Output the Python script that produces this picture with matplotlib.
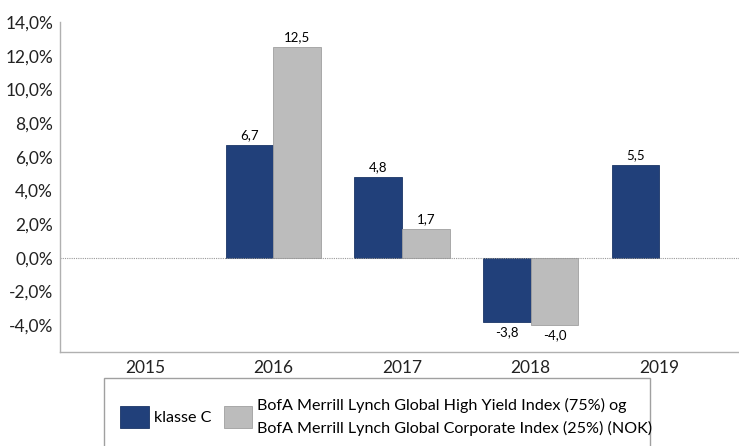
import numpy as np
import matplotlib.pyplot as plt
from matplotlib.patches import Rectangle
from matplotlib.ticker import FuncFormatter

plt.rcParams['font.family'] = ['Lato', 'DejaVu Sans']

years = ["2015", "2016", "2017", "2018", "2019"]
klasse_c = [np.nan, 6.7, 4.8, -3.8, 5.5]
index_vals = [np.nan, 12.5, 1.7, -4.0, np.nan]

label_c = "klasse C"
label_idx = ("BofA Merrill Lynch Global High Yield Index (75%) og\n"
             "BofA Merrill Lynch Global Corporate Index (25%) (NOK)")

DARK = "#21407a"
GRAY = "#bcbcbc"

fig = plt.figure(figsize=(7.39, 4.46), dpi=100)
ax = fig.add_axes([60 / 739, 1 - 352 / 446, 1 - 60 / 739, (352 - 22) / 446])

x = np.arange(len(years))
w = 0.37
bars_c = ax.bar(x - w / 2, klasse_c, w, color=DARK, edgecolor="#1a3566", linewidth=0.6)
bars_i = ax.bar(x + w / 2, index_vals, w, color=GRAY, edgecolor="#a0a0a0", linewidth=0.6)

for bars, vals in [(bars_c, klasse_c), (bars_i, index_vals)]:
    for b, v in zip(bars, vals):
        if np.isnan(v):
            continue
        txt = f"{v:.1f}".replace(".", ",")
        cx = b.get_x() + b.get_width() / 2
        if v >= 0:
            ax.annotate(txt, (cx, v), xytext=(0, 3), textcoords="offset points",
                        ha="center", va="bottom", fontsize=9.5)
        else:
            ax.annotate(txt, (cx, v), xytext=(0, -3), textcoords="offset points",
                        ha="center", va="top", fontsize=9.5)

ax.axhline(0, color="#999999", linestyle=(0, (1, 1)), linewidth=0.8)

ax.set_xlim(-0.66, 4.62)
ax.set_ylim(-5.6, 14)
ax.set_yticks(np.arange(-4, 15, 2))
ax.yaxis.set_major_formatter(FuncFormatter(lambda v, p: f"{v:.1f}%".replace(".", ",")))
ax.set_xticks(x)
ax.set_xticklabels(years)
ax.tick_params(axis="both", labelsize=12.5, length=0, colors="#222222")
ax.tick_params(axis="x", pad=6)
ax.tick_params(axis="y", pad=5)

for s in ["top", "right"]:
    ax.spines[s].set_visible(False)
for s in ["left", "bottom"]:
    ax.spines[s].set_color("#b0b0b0")
    ax.spines[s].set_linewidth(1.0)

# legend box
fig.patches.append(Rectangle((104 / 739, -0.05), (650 - 104) / 739, 0.05 + 1 - 378 / 446,
                             transform=fig.transFigure, fill=False,
                             edgecolor="#a0a0a0", linewidth=1.0))
h1 = Rectangle((0, 0), 1, 1, facecolor=DARK, edgecolor="#1a3566", linewidth=0.6)
h2 = Rectangle((0, 0), 1, 1, facecolor=GRAY, edgecolor="#a0a0a0", linewidth=0.6)
leg = fig.legend([h1, h2], [label_c, label_idx], loc="center left",
                 bbox_to_anchor=(106 / 739, 1 - 417 / 446), ncol=2, frameon=False,
                 fontsize=11.6, handlelength=1.75, handleheight=1.75, handletextpad=0.3,
                 columnspacing=0.8)
for t in leg.get_texts():
    t.set_linespacing(1.7)

fig.savefig("out.png", dpi=100)
